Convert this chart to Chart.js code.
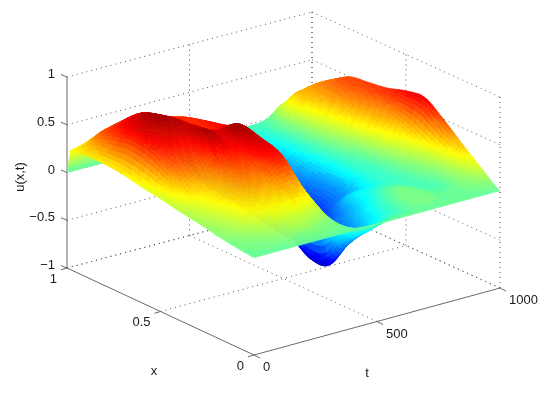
<!DOCTYPE html>
<html>
<head>
<meta charset="utf-8">
<style>
html,body{margin:0;padding:0;background:#fff;}
canvas{display:block;}
</style>
<script src="https://cdn.jsdelivr.net/npm/chart.js@4"></script>
</head>
<body>
<canvas id="chart" width="550" height="394"></canvas>
<script>
var tValues=[0,50,100,150,200,250,300,350,400,450,500,550,600,650,700,750,800,850,900,950,1000];
var xValues=[1,0.98,0.9,0.8,0.7,0.6,0.5,0.4,0.3,0.2,0.1,0];

// u(x,t), one array per x, back row first
var uX100=[0,0,0,0,0,0,0,0,0,0,0,0,-.01,-.02,-.02,-.02,-.01,.05,.1,.14,.2];
var uX098=[.25,.28,.33,.36,.35,.33,.3,.25,.02,-.1,-.12,-.15,-.15,-.12,-.1,-.06,-.01,.13,.16,.17,.23];
var uX090=[.27,.45,.5,.53,.55,.48,.45,.38,.05,-.25,-.35,-.4,-.42,-.34,-.26,-.16,0,.3,.36,.38,.37];
var uX080=[.27,.55,.64,.7,.65,.59,.55,.48,.05,-.3,-.4,-.45,-.5,-.43,-.33,-.24,-.02,.22,.38,.48,.5];
var uX070=[.25,.6,.7,.74,.71,.62,.56,.55,.1,-.3,-.45,-.5,-.55,-.46,-.36,-.28,-.04,.15,.35,.48,.53];
var uX060=[.21,.55,.64,.68,.7,.66,.58,.6,.12,-.35,-.5,-.55,-.58,-.49,-.39,-.29,-.08,.08,.28,.45,.56];
var uX050=[.18,.42,.5,.55,.73,.66,.75,.65,.15,-.4,-.5,-.55,-.55,-.45,-.35,-.27,-.09,0,.2,.38,.62];
var uX040=[.14,.23,.32,.41,.55,.6,.68,.62,.15,-.42,-.5,-.5,-.4,-.32,-.17,-.15,-.07,-.02,.12,.3,.64];
var uX030=[.11,.17,.25,.34,.42,.45,.58,.55,.1,-.55,-.52,-.4,-.3,-.2,-.1,-.04,-.04,-.03,.05,.2,.5];
var uX020=[.07,.12,.19,.26,.28,.3,.33,.3,.08,-.53,-.44,-.3,-.2,-.09,0,.04,.01,-.02,0,.14,.33];
var uX010=[.04,.06,.09,.12,.15,.16,.14,.1,.03,-.17,-.19,-.16,-.08,-.04,.04,.05,.03,.01,.03,.08,.17];
var uX000=[.02,.02,.02,.02,.02,.02,.02,.02,.02,.02,.02,.02,.02,.02,.02,.02,.02,.02,.02,.02,.02];
var uRows=[uX100,uX098,uX090,uX080,uX070,uX060,uX050,uX040,uX030,uX020,uX010,uX000];

var tTicks=[0,500,1000];
var xTicks=[0,0.5,1];
var uTicks=[-1,-0.5,0,0.5,1];
var uTickLabels=['\u22121','\u22120.5','0','0.5','1'];
var xTickLabels=['0','0.5','1'];
var tTickLabels=['0','500','1000'];

var uMin=-0.69, uMax=0.8;
var pxPerU=95.5;

// view: floor corners of the box on the page plane
function project(t,x,u){
	var a=t/1000, b=x;
	var px=254*(1-a)*(1-b)+500*a*(1-b)+67*(1-a)*b+312*a*b;
	var py=355*(1-a)*(1-b)+288*a*(1-b)+268*(1-a)*b+203*a*b;
	return {x:px, y:py-(u+1)*pxPerU};
}

function jet(u){
	var f=(u-uMin)/(uMax-uMin);
	f=Math.max(0,Math.min(0.9999,f));
	f=(Math.floor(f*64)+0.5)/64;
	function c(v){return Math.round(255*Math.max(0,Math.min(1,v)));}
	return 'rgb('+c(1.5-Math.abs(4*f-3))+','+c(1.5-Math.abs(4*f-2))+','+c(1.5-Math.abs(4*f-1))+')';
}

// shading is smooth between the read values, like shading interp
function spline(p0,p1,p2,p3,s){
	return 0.5*(2*p1+(p2-p0)*s+(2*p0-5*p1+4*p2-p3)*s*s+(3*p1-p0-3*p2+p3)*s*s*s);
}
function alongT(row,c,b){
	var last=row.length-1;
	return spline(row[Math.max(c-1,0)],row[c],row[c+1],row[Math.min(c+2,last)],b);
}
function smoothU(r,c,a,b){
	if(r==0) return (1-a)*alongT(uRows[0],c,b)+a*alongT(uRows[1],c,b);
	var last=uRows.length-1;
	return spline(
		alongT(uRows[Math.max(r-1,1)],c,b),
		alongT(uRows[r],c,b),
		alongT(uRows[r+1],c,b),
		alongT(uRows[Math.min(r+2,last)],c,b),
		a);
}

var datasets=[];

function addLine(p,q,solid){
	datasets.push({
		data:[project(p[0],p[1],p[2]),project(q[0],q[1],q[2])],
		showLine:true,
		pointRadius:0,
		borderWidth:1,
		borderColor:solid ? '#6a6a6a' : '#555',
		borderDash:solid ? [] : [1,4]
	});
}

// dotted grid on the floor and back walls
tTicks.forEach(function(t){
	if(t>0) addLine([t,0,-1],[t,1,-1]);
	if(t>0) addLine([t,1,-1],[t,1,1]);
});
xTicks.forEach(function(x){
	if(x>0) addLine([0,x,-1],[1000,x,-1]);
	addLine([1000,x,-1],[1000,x,1]);
});
uTicks.forEach(function(u){
	addLine([0,1,u],[1000,1,u]);
	addLine([1000,1,u],[1000,0,u]);
});
// solid axes
addLine([0,0,-1],[1000,0,-1],true);
addLine([0,0,-1],[0,1,-1],true);
addLine([0,1,-1],[0,1,1],true);

// surface rows, only carried as points, the plugin shades between them
var firstRow=datasets.length;
uRows.forEach(function(row,r){
	datasets.push({
		data:row.map(function(u,c){return project(tValues[c],xValues[r],u);}),
		showLine:false,
		pointRadius:0
	});
});

var surfacePlugin={
	id:'surface',
	afterDatasetsDraw:function(chart){
		var ctx=chart.ctx, n=8;
		ctx.save();
		ctx.lineWidth=0.6;
		ctx.lineJoin='round';
		for(var r=0;r<uRows.length-1;r++){
			var back=chart.getDatasetMeta(firstRow+r).data;
			var front=chart.getDatasetMeta(firstRow+r+1).data;
			for(var c=tValues.length-2;c>=0;c--){
				for(var i=0;i<n;i++){
					for(var j=n-1;j>=0;j--){
						var q=[[i,j],[i,j+1],[i+1,j+1],[i+1,j]];
						ctx.beginPath();
						var sum=0;
						q.forEach(function(s,k){
							var a=s[0]/n, b=s[1]/n;
							var px=(1-a)*((1-b)*back[c].x+b*back[c+1].x)+a*((1-b)*front[c].x+b*front[c+1].x);
							var py=(1-a)*((1-b)*back[c].y+b*back[c+1].y)+a*((1-b)*front[c].y+b*front[c+1].y);
							var flat=(1-a)*((1-b)*uRows[r][c]+b*uRows[r][c+1])+a*((1-b)*uRows[r+1][c]+b*uRows[r+1][c+1]);
							var u=smoothU(r,c,a,b);
							py-=(u-flat)*pxPerU;
							sum+=u;
							if(k==0) ctx.moveTo(px,py); else ctx.lineTo(px,py);
						});
						ctx.closePath();
						var col=jet(sum/4);
						ctx.fillStyle=col;
						ctx.strokeStyle=col;
						ctx.fill();
						ctx.stroke();
					}
				}
			}
		}
		ctx.restore();
	}
};

var labelPlugin={
	id:'axisText',
	afterDraw:function(chart){
		var ctx=chart.ctx, sx=chart.scales.x, sy=chart.scales.y;
		function at(t,x,u){
			var p=project(t,x,u);
			return {x:sx.getPixelForValue(p.x), y:sy.getPixelForValue(p.y)};
		}
		function tick(p,dx,dy){
			ctx.beginPath();
			ctx.moveTo(p.x,p.y);
			ctx.lineTo(p.x+dx,p.y+dy);
			ctx.stroke();
		}
		ctx.save();
		ctx.strokeStyle='#6a6a6a';
		ctx.lineWidth=1;
		ctx.fillStyle='#1a1a1a';
		ctx.font='13px "Liberation Sans", Arial, sans-serif';
		ctx.textBaseline='middle';
		ctx.textAlign='right';
		uTicks.forEach(function(u,i){
			var p=at(0,1,u);
			tick(p,-6,-2.5);
			ctx.fillText(uTickLabels[i],p.x-12,p.y-2.5);
		});
		xTicks.forEach(function(x,i){
			var p=at(0,x,-1);
			tick(p,-6,1.7);
			ctx.fillText(xTickLabels[i],p.x-10,p.y+11);
		});
		ctx.textAlign='left';
		tTicks.forEach(function(t,i){
			var p=at(t,0,-1);
			tick(p,6,3);
			ctx.fillText(tTickLabels[i],p.x+9,p.y+12.5);
		});
		ctx.textAlign='center';
		ctx.fillText('x',154,371);
		ctx.fillText('t',367,373);
		ctx.translate(20,177);
		ctx.rotate(-Math.PI/2);
		ctx.fillText('u(x,t)',0,0);
		ctx.restore();
	}
};

new Chart(document.getElementById('chart').getContext('2d'),{
	type:'scatter',
	data:{datasets:datasets},
	options:{
		responsive:false,
		animation:false,
		layout:{padding:0},
		plugins:{legend:{display:false},tooltip:{enabled:false}},
		scales:{
			x:{type:'linear',min:0,max:550,display:false},
			y:{type:'linear',min:0,max:394,reverse:true,display:false}
		}
	},
	plugins:[surfacePlugin,labelPlugin]
});
</script>
</body>
</html>
